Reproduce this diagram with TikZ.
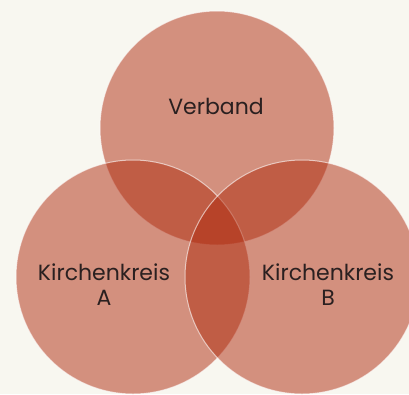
\documentclass[tikz,border=0pt]{standalone}
\usepackage{fontspec}
\setmainfont{Poppins}
\usepackage{xcolor}
\definecolor{vennBg}{HTML}{F8F7F0}
\definecolor{vennFill}{HTML}{AF2B0E}
\definecolor{vennText}{HTML}{2A2020}

\begin{document}
\begin{tikzpicture}[x=1pt, y=-1pt,
  venn/.style={circle, minimum size=234pt, inner sep=0pt, fill=vennFill, fill opacity=0.5, draw=white, draw opacity=0.6, line width=1pt},
  vennlabel/.style={text=vennText, font=\fontsize{22}{25}\selectfont, align=center}]
  \filldraw[fill=vennBg, draw=none] (0,0) rectangle (409,394);
  \useasboundingbox (0,0) rectangle (409,394);
  \node[venn] (V) at (217,128) {};
  \node[venn] (A) at (133,277) {};
  \node[venn] (B) at (302,277) {};
  \node[vennlabel] (Vl) at (216,106) {Verband};
  \node[vennlabel] (Al) at (104,285) {Kirchenkreis\\A};
  \node[vennlabel] (Bl) at (328,285) {Kirchenkreis\\B};
\end{tikzpicture}
\end{document}
